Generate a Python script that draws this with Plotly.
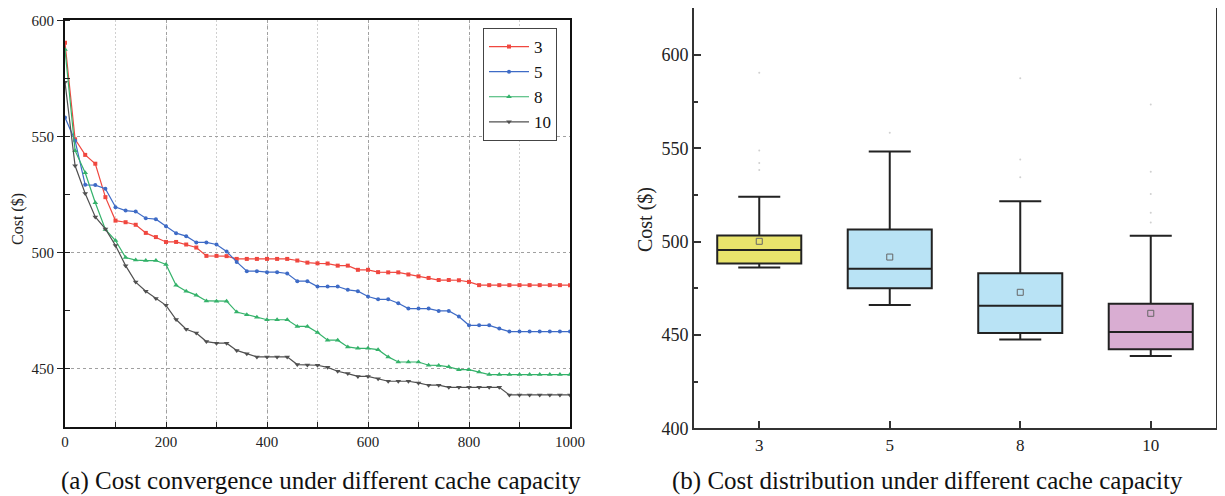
import numpy as np
import plotly.graph_objects as go

iterations = list(range(0, 1001, 20))
capacity_labels = ["3", "5", "8", "10"]

cost_cap3 = [590.5, 548.9, 542.2, 538.4, 524.0, 513.9, 513.2, 512.1, 508.6, 506.8,
             504.7, 504.7, 503.6, 502.3, 498.7, 498.7, 498.6, 497.4, 497.4, 497.4,
             497.4, 497.4, 497.4, 496.7, 495.8, 495.5, 495.4, 494.5, 494.5, 492.7,
             492.7, 491.7, 491.6, 491.6, 490.7, 489.9, 489.2, 488.3, 488.3, 488.2,
             487.5, 486.1, 486.1, 486.1, 486.1, 486.1, 486.1, 486.1, 486.1, 486.1, 486.1]
cost_cap5 = [558.3, 548.3, 529.3, 529.2, 527.6, 519.7, 518.2, 517.8, 514.9, 514.5,
             511.5, 508.5, 507.2, 504.5, 504.5, 503.6, 500.6, 496.1, 492.1, 492.1,
             491.7, 491.7, 491.1, 487.8, 487.8, 485.5, 485.5, 485.5, 484.1, 483.5,
             481.2, 480.0, 480.0, 478.3, 476.0, 476.0, 476.0, 475.0, 475.0, 472.6,
             468.8, 468.8, 468.8, 467.4, 466.1, 466.1, 466.1, 466.1, 466.1, 466.1, 466.1]
cost_cap8 = [587.6, 544.0, 534.5, 521.6, 510.1, 505.3, 498.0, 496.9, 496.7, 496.7,
             495.0, 486.0, 483.5, 481.8, 479.3, 479.2, 479.2, 474.5, 473.3, 472.3,
             471.2, 471.2, 471.2, 468.3, 468.3, 465.7, 462.4, 462.4, 459.5, 458.9,
             458.9, 458.3, 455.2, 453.0, 453.0, 453.0, 451.6, 451.5, 450.9, 449.7,
             449.7, 448.7, 447.6, 447.6, 447.6, 447.6, 447.6, 447.6, 447.6, 447.6, 447.6]
cost_cap10 = [573.5, 537.5, 525.6, 515.5, 510.3, 503.2, 494.5, 487.4, 483.5, 480.3,
              477.4, 471.3, 467.1, 465.5, 461.8, 461.1, 461.1, 458.0, 456.6, 455.2,
              455.2, 455.2, 455.2, 451.9, 451.7, 451.6, 450.7, 449.0, 448.0, 446.8,
              446.8, 445.8, 444.7, 444.7, 444.7, 444.0, 443.0, 443.0, 442.1, 442.1,
              442.1, 442.1, 442.1, 442.1, 438.8, 438.8, 438.8, 438.8, 438.8, 438.8, 438.8]

series = [cost_cap3, cost_cap5, cost_cap8, cost_cap10]
line_colors = ["#f0473f", "#3e6bc6", "#34b26a", "#505050"]
marker_symbols = ["square", "circle", "triangle-up", "triangle-down"]
marker_sizes = [4, 4, 5, 5]
box_fills = ["#e9e46c", "#b9e3f5", "#b9e3f5", "#d9add2"]

W, H = 1225, 496
OFF = 8  # page body margin offset
SERIF = "Liberation Serif"


def px(x):
    return (x - OFF) / W


def py(y):
    return 1 - (y - OFF) / H


fig = go.Figure()

for lab, ys, col, sym, ms in zip(capacity_labels, series, line_colors, marker_symbols, marker_sizes):
    fig.add_trace(go.Scatter(
        x=iterations, y=ys, name=lab, mode="lines+markers",
        line=dict(color=col, width=1.2),
        marker=dict(symbol=sym, size=ms, color=col),
        xaxis="x", yaxis="y"))

for lab, ys, fill in zip(capacity_labels, series, box_fills):
    fig.add_trace(go.Box(
        y=ys, x0=lab, name=lab, showlegend=False,
        fillcolor=fill, line=dict(color="#222222", width=2),
        boxpoints="outliers", width=0.644, whiskerwidth=0.5,
        marker=dict(color="#d0d0d0", size=2),
        xaxis="x2", yaxis="y2"))

fig.add_trace(go.Scatter(
    x=capacity_labels, y=[float(np.mean(s)) for s in series],
    mode="markers", showlegend=False,
    marker=dict(symbol="square-open", size=6, color="#666666", line=dict(width=1)),
    xaxis="x2", yaxis="y2"))

grid_major = dict(showgrid=True, gridcolor="#a0a0a0", gridwidth=1, griddash="3px,3px")

fig.update_layout(
    width=W, height=H,
    margin=dict(l=0, r=0, t=0, b=0, autoexpand=False),
    paper_bgcolor="white", plot_bgcolor="white",
    font=dict(family=SERIF, color="#222"),
    boxmode="overlay",
    xaxis=dict(
        domain=[px(65), px(570)], range=[0, 1000], tickvals=[0, 200, 400, 600, 800, 1000],
        ticks="inside", ticklen=5, tickwidth=1, tickcolor="#222", automargin=False,
        minor=dict(dtick=100, ticks="inside", ticklen=5, tickcolor="#222",
                   showgrid=True, gridcolor="#d0d0d0", griddash="2px,2px"),
        showline=True, linecolor="#111", linewidth=2, mirror=True,
        tickfont=dict(size=15, family=SERIF), zeroline=False, **grid_major),
    yaxis=dict(
        domain=[py(427), py(20)], range=[425, 600.3], tickvals=[450, 500, 550, 600],
        ticks="outside", ticklen=6, tickwidth=1, tickcolor="#222", automargin=False,
        minor=dict(dtick=25, tick0=425, ticks="inside", ticklen=5, tickcolor="#222", showgrid=False),
        showline=True, linecolor="#111", linewidth=2, mirror=True,
        tickfont=dict(size=15, family=SERIF), zeroline=False, **grid_major),
    xaxis2=dict(
        domain=[px(694), px(1216)], type="category", categoryorder="array",
        categoryarray=capacity_labels, range=[-0.5, 3.5], automargin=False,
        ticks="inside", ticklen=7, tickwidth=1.5, tickcolor="#333",
        showline=True, linecolor="#333", linewidth=2, mirror=True,
        showgrid=False, tickfont=dict(size=17, family=SERIF), anchor="y2"),
    yaxis2=dict(
        domain=[py(428.3), py(8)], range=[400, 625.2], tickvals=[400, 450, 500, 550, 600],
        ticks="inside", ticklen=7, tickwidth=1.5, tickcolor="#333", automargin=False,
        minor=dict(dtick=25, tick0=400, ticks="inside", ticklen=4, tickcolor="#333"),
        showline=True, linecolor="#333", linewidth=2, mirror=True,
        showgrid=False, zeroline=False, tickfont=dict(size=18, family=SERIF), anchor="x2"),
    legend=dict(
        x=px(483), y=py(28), xanchor="left", yanchor="top",
        bordercolor="#444", borderwidth=1, bgcolor="white", itemwidth=40,
        font=dict(size=17, family=SERIF, color="#111"), tracegroupgap=0),
    showlegend=True,
    annotations=[
        dict(text="Cost ($)", x=px(18), y=py(219), xref="paper", yref="paper",
             xanchor="center", yanchor="middle",
             textangle=-90, showarrow=False, font=dict(size=16, family=SERIF)),
        dict(text="Cost ($)", x=px(645), y=py(220), xref="paper", yref="paper",
             xanchor="center", yanchor="middle",
             textangle=-90, showarrow=False, font=dict(size=20, family=SERIF)),
        dict(text="(a) Cost convergence under different cache capacity", x=px(321), y=py(481),
             xref="paper", yref="paper", xanchor="center", yanchor="middle",
             showarrow=False, font=dict(size=25, family=SERIF, color="#111")),
        dict(text="(b) Cost distribution under different cache capacity", x=px(927), y=py(481),
             xref="paper", yref="paper", xanchor="center", yanchor="middle",
             showarrow=False, font=dict(size=25, family=SERIF, color="#111")),
    ],
)

fig.write_html("out.html")
